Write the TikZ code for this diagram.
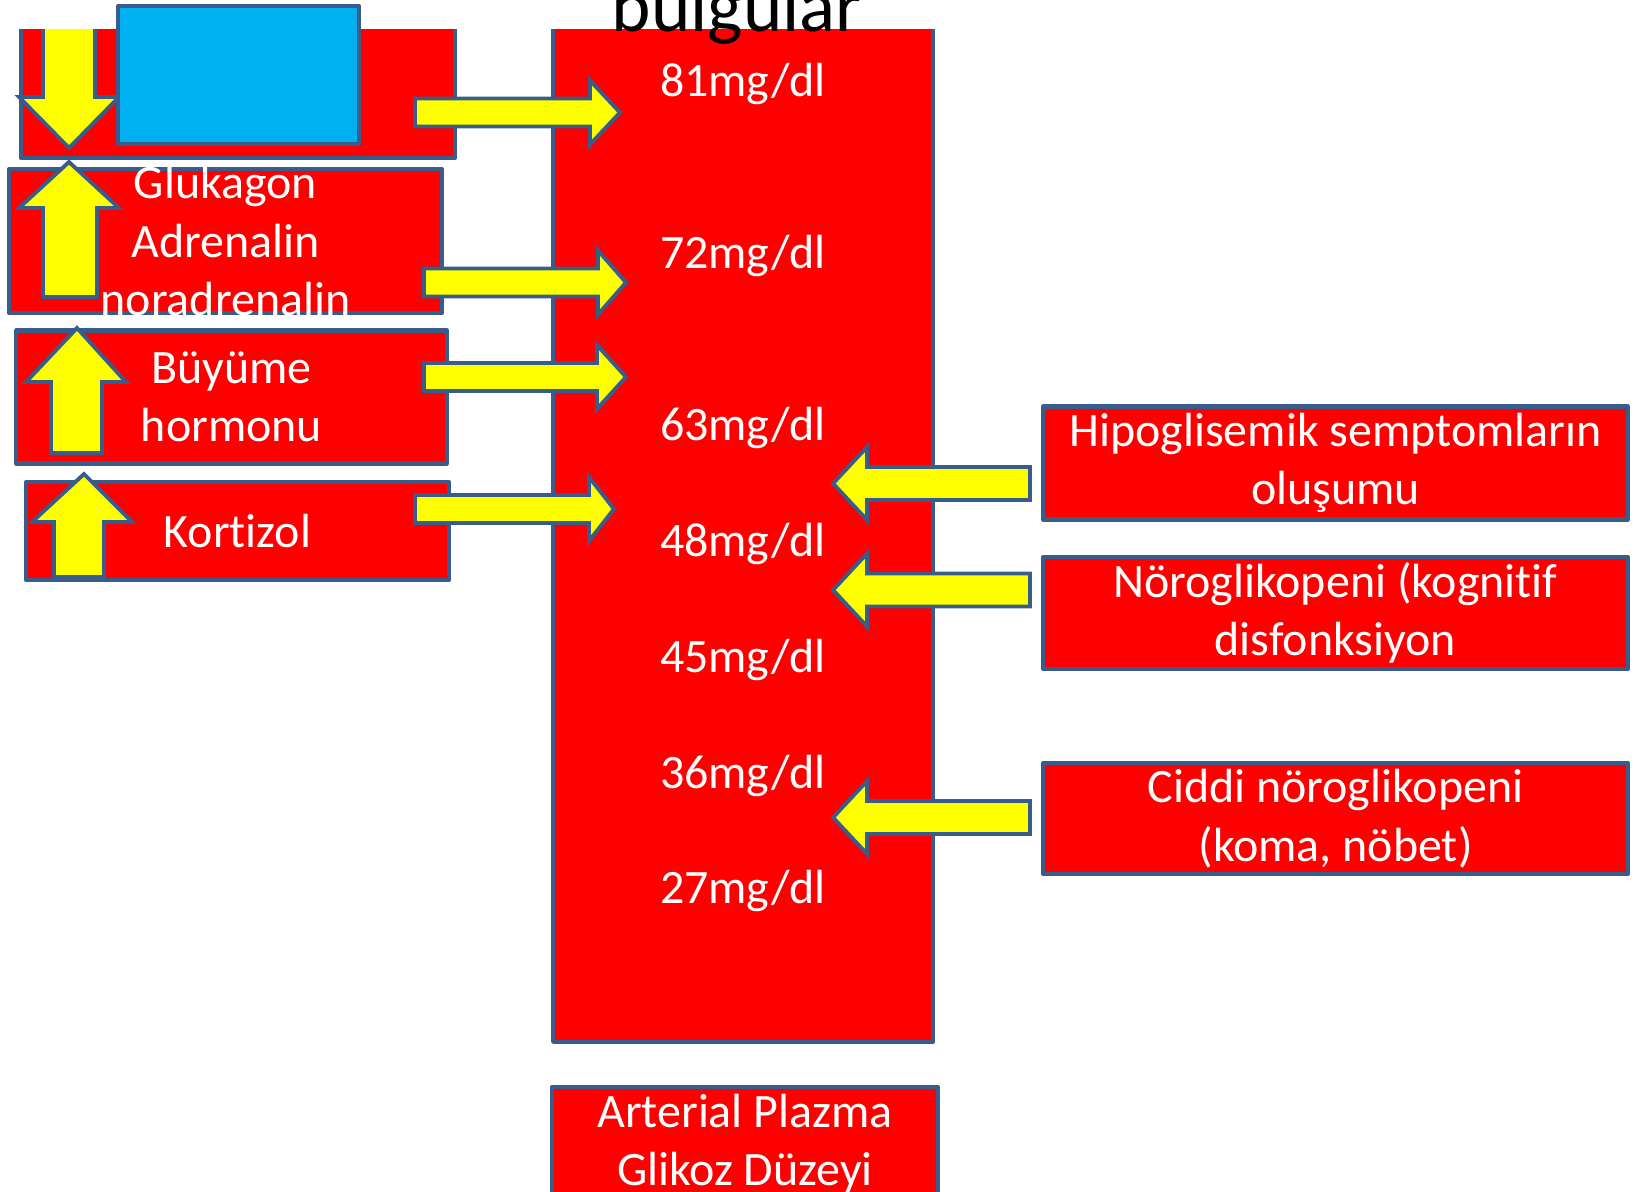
\documentclass[tikz,border=0pt]{standalone}
\usepackage{fontspec}
\setmainfont[Ligatures=NoCommon]{Carlito}
\usepackage{tikz}
\definecolor{boxred}{HTML}{FF0000}
\definecolor{edgeblue}{HTML}{385D8A}
\definecolor{arrowyellow}{HTML}{FFFF00}
\definecolor{coverblue}{HTML}{00B0F0}

\begin{document}
\begin{tikzpicture}[x=0.02cm,y=-0.02cm,
    redbox/.style={draw=edgeblue,fill=boxred,line width=2.3pt,line join=round,inner sep=0pt,
      text=white,align=center,font=\fontsize{27.3}{33.3}\selectfont},
    fatarrow/.style={draw=edgeblue,fill=arrowyellow,line width=2.2pt},
    level/.style={text=white,anchor=base,font=\fontsize{27.3}{33.3}\selectfont}]
    \useasboundingbox (0,0) rectangle (1637,1192);
    \clip (0,0) rectangle (1637,1192);
    % hormone boxes
    \node[redbox,minimum width=8.68cm,minimum height=2.96cm] (insulin) at (238,84) {};
    \node[redbox,inner ysep=-5pt,minimum width=8.66cm,minimum height=2.88cm] (glukagon) at (225.5,241) {Glukagon\\Adrenalin\\noradrenalin};
    \node[redbox,minimum width=8.62cm,minimum height=2.66cm] (buyume) at (231.5,397) {Büyüme\\hormonu};
    \node[redbox,minimum width=8.46cm,minimum height=1.96cm] (kortizol) at (237.5,531) {Kortizol};
    % glucose scale
    \node[redbox,minimum width=7.6cm,minimum height=20.64cm] (duzey) at (743,526) {};
    \node[redbox,minimum width=7.72cm,minimum height=2.26cm] (arterial) at (745,1143.5) {Arterial Plazma\\Glikoz Düzeyi};
    % symptom boxes
    \node[redbox,minimum width=11.7cm,minimum height=2.26cm] (hipo) at (1335.5,463) {Hipoglisemik semptomların\\oluşumu};
    \node[redbox,minimum width=11.7cm,minimum height=2.24cm] (noro) at (1335.5,613) {Nöroglikopeni (kognitif\\disfonksiyon};
    \node[redbox,minimum width=11.7cm,minimum height=2.22cm] (ciddi) at (1335.5,818.5) {Ciddi nöroglikopeni\\(koma, nöbet)};
    % levels
    \node[level] (l81) at (743,96.5) {81mg/dl};
    \node[level] (l72) at (743,269) {72mg/dl};
    \node[level] (l63) at (743,441) {63mg/dl};
    \node[level] (l48) at (743,557) {48mg/dl};
    \node[level] (l45) at (743,673) {45mg/dl};
    \node[level] (l36) at (743,788) {36mg/dl};
    \node[level] (l27) at (743,903.5) {27mg/dl};
    % down arrow
    \draw[fatarrow] (43,10) -- (43,97) -- (19,97) -- (69,148) -- (119,97) -- (95,97) -- (95,10) -- cycle;
    % title
    \fill[white] (0,0) rectangle (1637,29);
    \node[anchor=base,font=\fontsize{42.7}{50}\selectfont] (baslik) at (737,32) {bulgular};
    \node[draw=edgeblue,fill=coverblue,line width=2.3pt,line join=round,minimum width=4.82cm,minimum height=2.76cm] (cover) at (238.5,75) {};
    % up arrows
    \draw[fatarrow] (69,162) -- (119,208) -- (97,208) -- (97,297) -- (43,297) -- (43,208) -- (19,208) -- cycle;
    \draw[fatarrow] (77,328) -- (126,382) -- (102,382) -- (102,453) -- (51,453) -- (51,382) -- (26,382) -- cycle;
    \draw[fatarrow] (84,474) -- (132,522) -- (104,522) -- (104,577) -- (54,577) -- (54,522) -- (32,522) -- cycle;
    % arrows to the scale
    \draw[fatarrow] (415,98.5) -- (590,98.5) -- (590,80.5) -- (620,112.5) -- (590,144.5) -- (590,126.5) -- (415,126.5) -- cycle;
    \draw[fatarrow] (424,268.5) -- (598,268.5) -- (598,250.5) -- (626,282.5) -- (598,314.5) -- (598,296.5) -- (424,296.5) -- cycle;
    \draw[fatarrow] (424,363) -- (597,363) -- (597,345) -- (626,377) -- (597,409) -- (597,391) -- (424,391) -- cycle;
    \draw[fatarrow] (415,495) -- (589,495) -- (589,477) -- (614,509) -- (589,541) -- (589,523) -- (415,523) -- cycle;
    % arrows from the symptoms
    \draw[fatarrow] (1030,467) -- (867,467) -- (867,447) -- (833,483.5) -- (867,520) -- (867,500) -- (1030,500) -- cycle;
    \draw[fatarrow] (1030,573.5) -- (867,573.5) -- (867,553.5) -- (833,590) -- (867,626.5) -- (867,606.5) -- (1030,606.5) -- cycle;
    \draw[fatarrow] (1030,801) -- (867,801) -- (867,781) -- (833,817.5) -- (867,854) -- (867,834) -- (1030,834) -- cycle;
\end{tikzpicture}
\end{document}
